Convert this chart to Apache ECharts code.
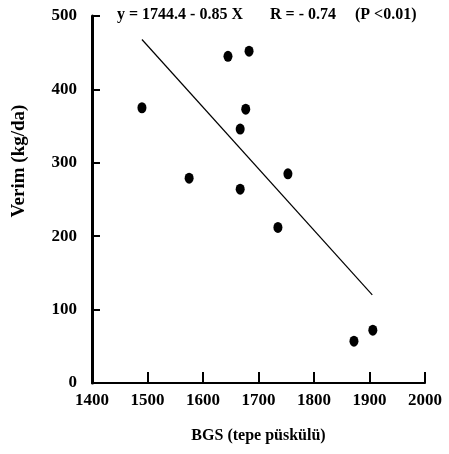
<!DOCTYPE html>
<html>
<head>
<meta charset="utf-8">
<script src="https://cdn.jsdelivr.net/npm/echarts@6/dist/echarts.min.js"></script>
<style>
html,body{margin:0;padding:0;background:#fff;}
#c{width:449px;height:454px;}
</style>
</head>
<body>
<div id="c"></div>
<script>
// Data
var gdd = [1490, 1645, 1683, 1677, 1667, 1575, 1667, 1753, 1735, 1872, 1906];
var yieldKg = [375, 445, 452, 373, 346, 279, 264, 285, 212, 57, 72];
var fitX = [1490, 1905];
var fitY = [468, 120];
var xTicks = [1400, 1500, 1600, 1700, 1800, 1900, 2000];
var yTicks = [0, 100, 200, 300, 400, 500];
var equationText = 'y = 1744.4 - 0.85 X';
var rText = 'R = - 0.74';
var pText = '(P <0.01)';
var xName = 'BGS (tepe püskülü)';
var yName = 'Verim (kg/da)';

var FONT = '"Liberation Serif", serif';

var chart = echarts.init(document.getElementById('c'), null, {renderer: 'canvas'});
var pts = gdd.map(function (x, i) { return [x, yieldKg[i]]; });
var fit = fitX.map(function (x, i) { return [x, fitY[i]]; });

chart.setOption({
  backgroundColor: '#fff',
  animation: false,
  grid: {left: 92, right: 24, top: 16, bottom: 71},
  xAxis: {
    type: 'value', min: xTicks[0], max: xTicks[xTicks.length - 1], interval: 100,
    axisLine: {show: true, lineStyle: {color: '#000', width: 2}},
    axisTick: {show: true, inside: true, length: 11, lineStyle: {color: '#000', width: 2}},
    splitLine: {show: false},
    axisLabel: {color: '#000', fontFamily: FONT, fontWeight: 'bold', fontSize: 17, margin: 9,
      formatter: function (v) { return String(v); }},
    name: xName, nameLocation: 'middle', nameGap: 45,
    nameTextStyle: {color: '#000', fontFamily: FONT, fontWeight: 'bold', fontSize: 16}
  },
  yAxis: {
    type: 'value', min: yTicks[0], max: yTicks[yTicks.length - 1], interval: 100,
    axisLine: {show: true, lineStyle: {color: '#000', width: 3}},
    axisTick: {show: true, inside: true, length: 8, lineStyle: {color: '#000', width: 2}},
    splitLine: {show: false},
    axisLabel: {color: '#000', fontFamily: FONT, fontWeight: 'bold', fontSize: 17, margin: 15,
      formatter: function (v) { return String(v); }}
  },
  graphic: [
    {type: 'text', left: 117, top: 7, style: {text: equationText, fill: '#000', font: 'bold 16px ' + FONT}},
    {type: 'text', left: 270, top: 7, style: {text: rText, fill: '#000', font: 'bold 16px ' + FONT}},
    {type: 'text', left: 355, top: 7, style: {text: pText, fill: '#000', font: 'bold 16px ' + FONT}},
    {type: 'text', x: 19, y: 161, rotation: Math.PI / 2,
      style: {text: yName, fill: '#000', font: 'bold 19px ' + FONT, align: 'center', verticalAlign: 'middle'}}
  ],
  series: [
    {
      type: 'line', data: fit, symbol: 'none', silent: true,
      lineStyle: {color: '#000', width: 1.2}
    },
    {
      type: 'scatter', data: pts, symbol: 'circle', symbolSize: [9, 11],
      itemStyle: {color: '#000', opacity: 1}
    }
  ]
});
</script>
</body>
</html>
